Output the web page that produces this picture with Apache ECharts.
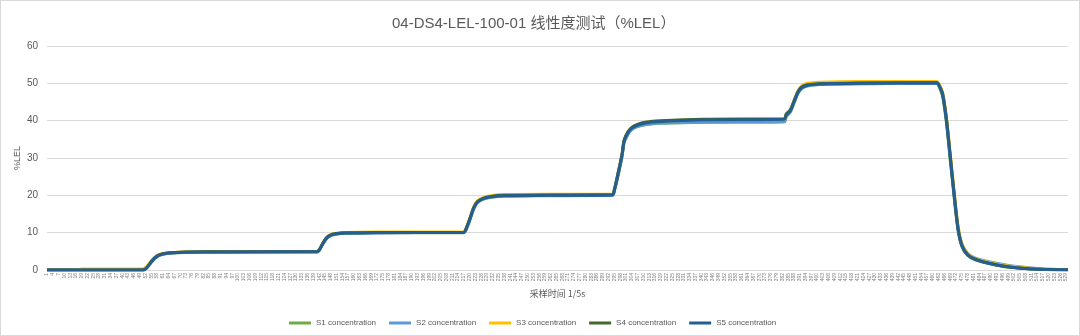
<!DOCTYPE html>
<html>
<head>
<meta charset="utf-8">
<script src="https://cdn.jsdelivr.net/npm/echarts@6/dist/echarts.min.js"></script>
<style>
html,body{margin:0;padding:0;background:#fff;}
#c{width:1080px;height:336px;box-sizing:border-box;border:1px solid #d9d9d9;}
</style>
</head>
<body>
<div id="c"></div>
<script>
// category labels: sample index 1..530
const categoryCount = 530;
const categories = Array.from({length: categoryCount}, (_, i) => String(i + 1));
const yTicks = [0, 10, 20, 30, 40, 50, 60];
const seriesNames = ['S1 concentration', 'S2 concentration', 'S3 concentration', 'S4 concentration', 'S5 concentration'];

// values: [sample index, %LEL]
const s1 = [[0,0],[50,0],[52,0.7],[54,2.0],[56,3.1],[58,3.9],[61,4.3],[65,4.55],[72,4.7],[90,4.8],[140,4.85],
 [141,5.2],[143,7.0],[145,8.5],[147,9.2],[150,9.6],[155,9.85],[170,9.95],[216,10.0],
 [217,10.6],[219,13.2],[221,16.2],[223,18.0],[226,19.0],[230,19.5],[237,19.8],[260,19.9],[293,20.0],
 [294,21.2],[296,25.5],[298,30.5],[299,34],[301,36.3],[303,37.6],[306,38.4],[310,38.9],[318,39.3],[340,39.6],[382,39.7],
 [383,41.0],[385,42.2],[387,44.6],[389,47.2],[391,48.6],[394,49.3],[400,49.7],[420,49.9],[461,50.0],
 [462,49.4],[464,46.5],[466,39.5],[468,29.5],[470,19.5],[472,10.8],[474,6.3],[477,3.9],[481,2.7],[488,1.7],[496,0.9],[505,0.45],[515,0.2],[529,0.05]];
const s2 = [[0,0],[50,0],[52,0.8],[54,2.1],[56,3.2],[58,3.9],[61,4.35],[65,4.6],[72,4.75],[90,4.85],[140,4.9],
 [141,5.3],[143,7.1],[145,8.6],[147,9.3],[150,9.7],[155,9.9],[170,10.0],[216,10.05],
 [217,10.7],[219,13.4],[221,16.4],[223,18.1],[226,19.0],[230,19.5],[237,19.85],[260,19.95],[293,20.05],
 [294,21.4],[296,25.8],[298,30.8],[299,34.3],[301,36.5],[303,37.7],[306,38.5],[310,39.0],[318,39.4],[340,39.6],[382,39.7],
 [383,41.2],[385,42.3],[387,44.8],[389,47.3],[391,48.7],[394,49.4],[400,49.7],[420,49.9],[461,50.0],
 [462,49.6],[464,47.2],[466,40.5],[468,30.5],[470,20.5],[472,11.5],[474,7.0],[477,4.5],[481,3.2],[488,2.2],[496,1.4],[505,0.8],[515,0.35],[529,0.1]];
const s3 = [[0,0],[16,0],[18,0.3],[49,0.3],[51,0.6],[53,1.8],[55,3.0],[57,3.9],[60,4.4],[64,4.7],[72,4.85],[90,4.95],[140,5.0],
 [141,5.4],[143,7.3],[145,8.8],[147,9.5],[150,9.85],[155,10.05],[170,10.15],[216,10.2],
 [217,11.0],[219,13.8],[221,16.8],[223,18.5],[226,19.4],[230,19.9],[237,20.2],[260,20.3],[293,20.3],
 [294,21.7],[296,26.3],[298,31.3],[299,34.8],[301,37.0],[303,38.2],[306,39.0],[310,39.5],[318,39.9],[340,40.2],[382,40.3],
 [383,41.6],[385,42.7],[387,45.3],[389,47.9],[391,49.3],[394,50.0],[400,50.3],[420,50.5],[461,50.5],
 [462,50.0],[464,47.6],[466,41],[468,31],[470,21],[472,12],[474,7.0],[477,4.3],[481,3.0],[488,2.0],[496,1.2],[505,0.7],[515,0.3],[529,0.1]];
const s4 = [[0,0],[50,0],[52,0.8],[54,2.2],[56,3.3],[58,4.0],[61,4.45],[65,4.65],[72,4.8],[90,4.9],[140,4.95],
 [141,5.3],[143,7.2],[145,8.7],[147,9.4],[150,9.75],[155,9.95],[170,10.05],[216,10.1],
 [217,10.9],[219,13.6],[221,16.6],[223,18.3],[226,19.2],[230,19.7],[237,20.0],[260,20.1],[293,20.2],
 [294,21.6],[296,26.2],[298,31.2],[299,34.7],[301,37.0],[303,38.2],[306,39.0],[310,39.6],[318,40.0],[340,40.4],[382,40.5],
 [383,41.8],[385,42.8],[387,45.2],[389,47.7],[391,49.0],[394,49.6],[400,49.9],[420,50.1],[461,50.2],
 [462,49.7],[464,47.3],[466,40.5],[468,30.5],[470,20.5],[472,11.3],[474,6.7],[477,4.1],[481,2.9],[488,1.8],[496,1.0],[505,0.5],[515,0.2],[529,0.05]];
const s5 = [[0,0],[50,0],[52,0.8],[54,2.2],[56,3.3],[58,4.0],[61,4.4],[65,4.6],[72,4.75],[90,4.85],[140,4.9],
 [141,5.3],[143,7.2],[145,8.6],[147,9.3],[150,9.7],[155,9.9],[170,10.0],[216,10.05],
 [217,10.8],[219,13.5],[221,16.5],[223,18.2],[226,19.1],[230,19.6],[237,19.9],[260,20.0],[293,20.1],
 [294,21.5],[296,26.0],[298,31.0],[299,34.5],[301,36.8],[303,38.0],[306,38.8],[310,39.4],[318,39.8],[340,40.2],[382,40.4],
 [383,41.5],[385,42.5],[387,45.0],[389,47.5],[391,48.8],[394,49.5],[400,49.8],[420,50.0],[461,50.1],
 [462,49.6],[464,47.0],[466,40.0],[468,30.0],[470,20.0],[472,11.0],[474,6.5],[477,4.0],[481,2.8],[488,1.8],[496,1.0],[505,0.5],[515,0.2],[529,0.05]];

const seriesData = [s1, s2, s3, s4, s5];
const colors = ['#70AD47', '#5B9BD5', '#FFC000', '#43682B', '#255E91'];

const chart = echarts.init(document.getElementById('c'), null, {renderer: 'canvas'});
chart.setOption({
  animation: false,
  color: colors,
  title: {
    text: '04-DS4-LEL-100-01 线性度测试（%LEL）',
    left: 386,
    top: 10,
    textStyle: {fontSize: 15, fontWeight: 'normal', color: '#595959', fontFamily: 'Liberation Sans, Noto Sans CJK SC, sans-serif'}
  },
  legend: {
    data: seriesNames,
    bottom: 3,
    left: 283,
    icon: 'rect',
    itemWidth: 22,
    itemHeight: 3,
    itemGap: 13,
    textStyle: {fontSize: 8, color: '#595959', fontFamily: 'Liberation Sans, sans-serif'}
  },
  grid: {left: 46, right: 11, top: 45, bottom: 65, containLabel: false},
  xAxis: {
    type: 'category',
    data: categories,
    boundaryGap: false,
    name: '采样时间 1/5s',
    nameLocation: 'middle',
    nameGap: 19,
    nameTextStyle: {fontSize: 9, color: '#595959', fontFamily: 'Noto Sans CJK SC, sans-serif'},
    axisLine: {lineStyle: {color: '#d9d9d9', width: 1}},
    axisTick: {show: false},
    axisLabel: {interval: 2, rotate: 90, fontSize: 5, color: '#808080', margin: 3, fontFamily: 'Liberation Sans, sans-serif'},
    splitLine: {show: false}
  },
  yAxis: {
    type: 'value',
    min: 0, max: 60, interval: 10,
    name: '%LEL',
    nameLocation: 'middle',
    nameRotate: 90,
    nameGap: 25,
    nameMoveOverlap: false,
    nameTextStyle: {fontSize: 9, color: '#595959', fontFamily: 'Liberation Sans, sans-serif'},
    axisLine: {show: false},
    axisTick: {show: false},
    axisLabel: {fontSize: 10, color: '#595959', margin: 9, fontFamily: 'Liberation Sans, sans-serif',
      formatter: v => yTicks.includes(v) ? String(v) : ''},
    splitLine: {lineStyle: {color: '#d9d9d9', width: 1}}
  },
  series: seriesData.map((d, i) => ({
    name: seriesNames[i],
    type: 'line',
    data: d,
    symbol: 'none',
    smooth: 0.25,
    lineStyle: {width: 3, color: colors[i]},
    itemStyle: {color: colors[i]},
    emphasis: {disabled: true}
  }))
});
</script>
</body>
</html>
